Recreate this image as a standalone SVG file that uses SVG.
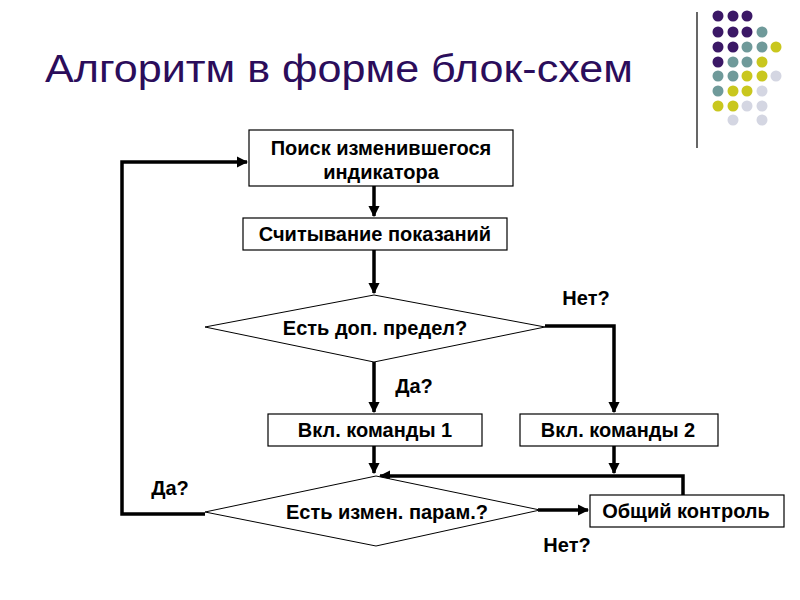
<svg xmlns="http://www.w3.org/2000/svg" width="800" height="600" viewBox="0 0 800 600">
<defs>
<style>
.box{fill:#fff;stroke:#000;stroke-width:1.2}
.dia{fill:#fff;stroke:#000;stroke-width:1}
.t{font-family:"Liberation Sans",Arial,sans-serif;font-weight:bold;font-size:20px;fill:#000;text-anchor:middle}
.c{fill:none;stroke:#000;stroke-width:3.5}
.p{fill:#3b1866}.g{fill:#6f9a9a}.y{fill:#c9c71e}.l{fill:#d4d6e2}
</style>
<marker id="ah" viewBox="0 0 10 10" refX="9" refY="5" markerWidth="3.2" markerHeight="3.2" orient="auto" markerUnits="strokeWidth">
<path d="M0,0 L10,5 L0,10 z" fill="#000"/>
</marker>
</defs>
<rect width="800" height="600" fill="#fff"/>
<text x="45" y="82" font-family="'Liberation Sans',Arial,sans-serif" font-size="39" fill="#2b0d5b" textLength="588" lengthAdjust="spacingAndGlyphs">Алгоритм в форме блок-схем</text>
<line x1="697" y1="12" x2="697" y2="148" stroke="#000" stroke-width="1.2"/>
<g id="dots">
<circle class="p" cx="718" cy="16" r="5.5"/><circle class="p" cx="733" cy="16" r="5.5"/><circle class="p" cx="747" cy="16" r="5.5"/>
<circle class="p" cx="718" cy="32" r="5.5"/><circle class="p" cx="733" cy="32" r="5.5"/><circle class="p" cx="747" cy="32" r="5.5"/><circle class="g" cx="762" cy="32" r="5.5"/>
<circle class="p" cx="718" cy="47" r="5.5"/><circle class="p" cx="733" cy="47" r="5.5"/><circle class="g" cx="747" cy="47" r="5.5"/><circle class="g" cx="762" cy="47" r="5.5"/><circle class="y" cx="776" cy="47" r="5.5"/>
<circle class="p" cx="718" cy="62" r="5.5"/><circle class="g" cx="733" cy="62" r="5.5"/><circle class="g" cx="747" cy="62" r="5.5"/><circle class="y" cx="762" cy="62" r="5.5"/>
<circle class="g" cx="718" cy="76" r="5.5"/><circle class="g" cx="733" cy="76" r="5.5"/><circle class="y" cx="747" cy="76" r="5.5"/><circle class="y" cx="762" cy="76" r="5.5"/><circle class="l" cx="776" cy="76" r="5.5"/>
<circle class="g" cx="718" cy="91" r="5.5"/><circle class="y" cx="733" cy="91" r="5.5"/><circle class="y" cx="747" cy="91" r="5.5"/><circle class="l" cx="762" cy="91" r="5.5"/>
<circle class="y" cx="718" cy="106" r="5.5"/><circle class="y" cx="733" cy="106" r="5.5"/><circle class="l" cx="747" cy="106" r="5.5"/><circle class="l" cx="762" cy="106" r="5.5"/>
<circle class="l" cx="733" cy="120" r="5.5"/><circle class="l" cx="762" cy="120" r="5.5"/>
</g>
<g id="connectors">
<path class="c" d="M374,186 V216" marker-end="url(#ah)"/>
<path class="c" d="M374,250 V293" marker-end="url(#ah)"/>
<path class="c" d="M374,362 V412" marker-end="url(#ah)"/>
<path class="c" d="M545,326 H614 V412" marker-end="url(#ah)"/>
<path class="c" d="M374,446 V473" marker-end="url(#ah)"/>
<path class="c" d="M614,446 V473" marker-end="url(#ah)"/>
<path class="c" d="M683,495 V476 H380" marker-end="url(#ah)"/>
<path class="c" d="M538,510 H588" marker-end="url(#ah)"/>
<path class="c" d="M205,514 H122 V162 H247" marker-end="url(#ah)"/>
</g>
<g id="n1"><rect class="box" x="249" y="130" width="264" height="56"/><text class="t" x="381" y="155">Поиск изменившегося</text><text class="t" x="381" y="179">индикатора</text></g>
<g id="n2"><rect class="box" x="243" y="218" width="264" height="32"/><text class="t" x="375" y="241">Считывание показаний</text></g>
<g id="d1"><polygon class="dia" points="374,295 545,327 374,362 205,327"/><text class="t" x="375" y="335">Есть доп. предел?</text></g>
<g id="n3"><rect class="box" x="268" y="414" width="214" height="32"/><text class="t" x="375" y="437">Вкл. команды 1</text></g>
<g id="n4"><rect class="box" x="520" y="414" width="198" height="32"/><text class="t" x="618" y="437">Вкл. команды 2</text></g>
<g id="d2"><polygon class="dia" points="376,476 540,510 376,546 205,512"/><text class="t" x="387" y="519">Есть измен. парам.?</text></g>
<g id="n5"><rect class="box" x="590" y="495" width="194" height="32"/><text class="t" x="686" y="518">Общий контроль</text></g>
<g id="labels">
<text class="t" x="586" y="305">Нет?</text>
<text class="t" x="414" y="393">Да?</text>
<text class="t" x="170" y="495">Да?</text>
<text class="t" x="567" y="552">Нет?</text>
</g>
</svg>
